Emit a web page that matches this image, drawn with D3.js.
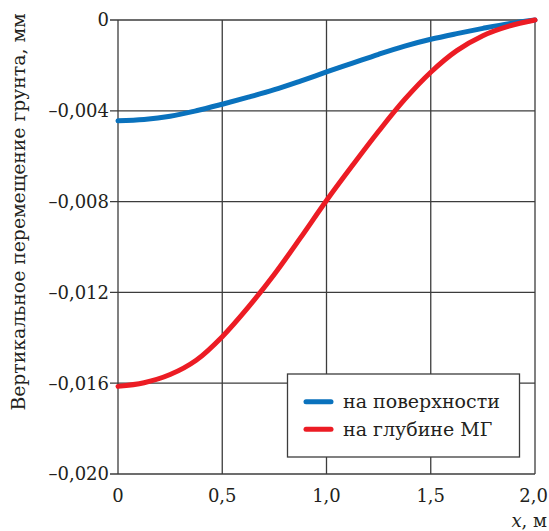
<!DOCTYPE html>
<html><head><meta charset="utf-8">
<script src="https://cdn.jsdelivr.net/npm/d3@7"></script>
<style>body{margin:0;background:#fff}</style>
</head><body><svg id="c" width="549" height="531"></svg>
<script>
const xs = [0,0.125,0.25,0.375,0.5,0.625,0.75,0.875,1.0,1.125,1.25,1.375,1.5,1.625,1.75,1.875,2.0];
const surface = [-0.00444,-0.00438,-0.00424,-0.004,-0.00371,-0.0034,-0.00307,-0.00269,-0.00229,-0.0019,-0.00151,-0.00115,-0.00085,-0.0006,-0.00037,-0.00016,0];
const depth = [-0.01614,-0.01598,-0.01562,-0.01499,-0.01395,-0.01265,-0.0112,-0.0096,-0.00795,-0.0064,-0.0049,-0.0035,-0.0023,-0.00135,-0.00069,-0.00027,0];
const xTicks = [0,0.5,1.0,1.5,2.0];
const yTicks = [0,-0.004,-0.008,-0.012,-0.016,-0.020];
const seriesNames = ["на поверхности","на глубине МГ"];
const colors = ["#0a72bd","#ec1c24"];

const svg = d3.select("#c");
const FONT = "DejaVu Serif, serif";
const L=118,R=535,T=20,B=474;
const x = d3.scaleLinear().domain([0,2]).range([L,R]);
const y = d3.scaleLinear().domain([-0.02,0]).range([B,T]);
const fmtX = d => d===0?"0":d3.format(".1f")(d).replace(".",",");
const fmtY = d => d===0?"0":"\u2013"+d3.format(".3f")(Math.abs(d)).replace(".",",");
const gc="#3c3c3c", tc="#231f20";

// grid
svg.append("g").selectAll("line").data(xTicks).join("line")
 .attr("x1",d=>x(d)).attr("x2",d=>x(d)).attr("y1",T).attr("y2",B)
 .attr("stroke",gc).attr("stroke-width",1.3);
svg.append("g").selectAll("line").data(yTicks).join("line")
 .attr("x1",L-8).attr("x2",R).attr("y1",d=>y(d)).attr("y2",d=>y(d))
 .attr("stroke",gc).attr("stroke-width",1.3);

// tick labels
svg.append("g").selectAll("text").data(yTicks).join("text")
 .attr("font-family",FONT).attr("fill",tc)
 .attr("x",L-9).attr("y",d=>y(d)).attr("dy","0.36em").attr("text-anchor","end")
 .attr("font-size",18).text(fmtY);
svg.append("g").selectAll("text").data(xTicks).join("text")
 .attr("font-family",FONT).attr("fill",tc)
 .attr("x",d=>x(d)).attr("y",502).attr("text-anchor",(d,i)=>i===xTicks.length-1?"end":"middle")
 .attr("dx",(d,i)=>i===xTicks.length-1?13:0)
 .attr("font-size",18).text(fmtX);

// axis titles
const xt = svg.append("text").attr("font-family",FONT).attr("fill",tc)
 .attr("x",547).attr("y",527).attr("text-anchor","end").attr("font-size",18);
xt.append("tspan").attr("font-style","italic").text("x");
xt.append("tspan").text(", м");
svg.append("text").attr("font-family",FONT).attr("fill",tc)
 .attr("transform","translate(25,212) rotate(-90)").attr("text-anchor","middle")
 .attr("font-size",18.8).text("Вертикальное перемещение грунта, мм");

// lines
const line = d3.line().x((d,i)=>x(xs[i])).y(d=>y(d)).curve(d3.curveCatmullRom.alpha(0.5));
[surface,depth].forEach((s,i)=>{
  svg.append("path").attr("d",line(s)).attr("fill","none").attr("stroke",colors[i])
   .attr("stroke-width",5).attr("stroke-linecap","round");
});

// legend
const lg = svg.append("g");
lg.append("rect").attr("x",287.5).attr("y",374).attr("width",232).attr("height",83)
 .attr("fill","#fff").attr("stroke",gc).attr("stroke-width",1.3);
seriesNames.forEach((n,i)=>{
  const yy = 401.7 + i*27.6;
  lg.append("line").attr("x1",306).attr("x2",331).attr("y1",yy).attr("y2",yy)
   .attr("stroke",colors[i]).attr("stroke-width",5).attr("stroke-linecap","round");
  lg.append("text").attr("font-family",FONT).attr("fill",tc)
   .attr("x",343).attr("y",yy).attr("dy","0.33em").attr("font-size",19).text(n);
});
</script></body></html>
